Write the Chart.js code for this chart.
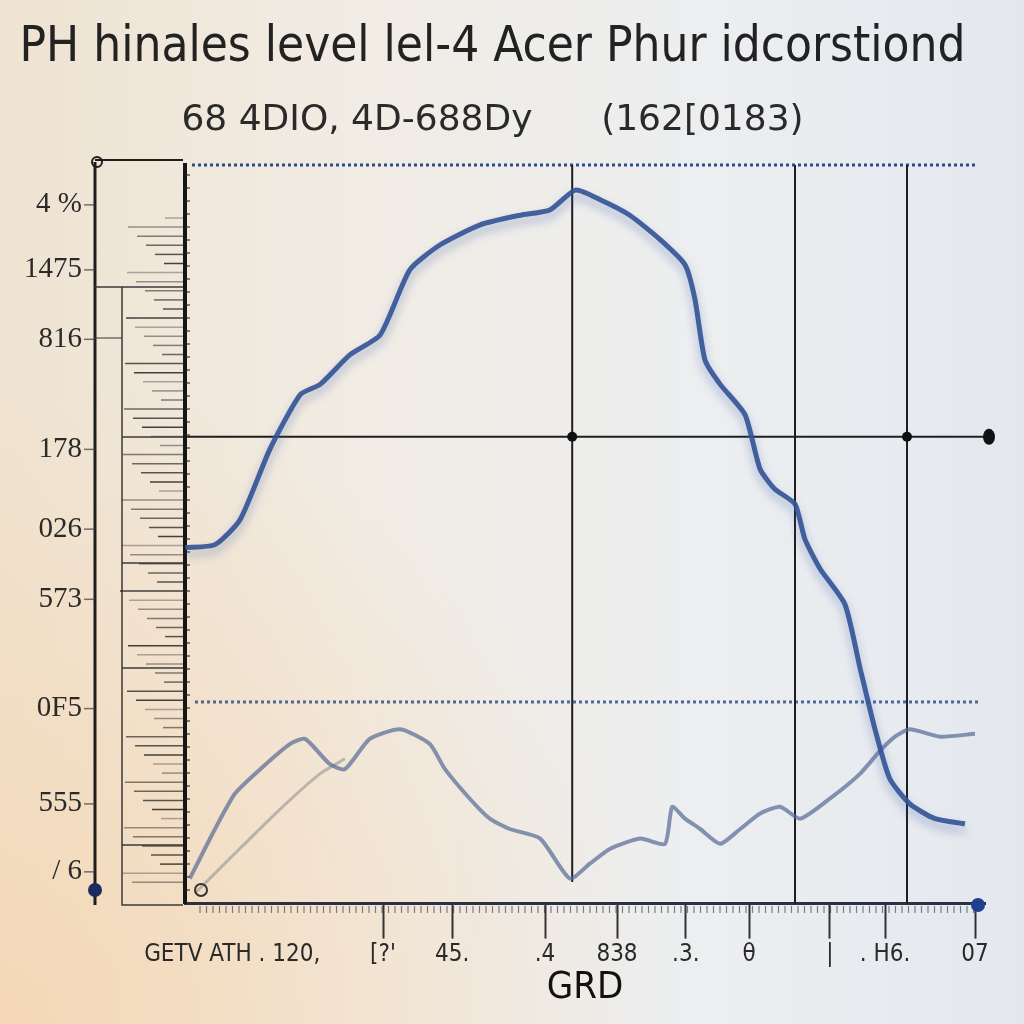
<!DOCTYPE html>
<html>
<head>
<meta charset="utf-8">
<script src="https://cdn.jsdelivr.net/npm/chart.js@4/dist/chart.umd.min.js"></script>
<style>
html,body{margin:0;padding:0;width:1024px;height:1024px;overflow:hidden;}
body{background:
 radial-gradient(ellipse at 0% 100%, rgba(245,215,180,0.9) 0%, rgba(245,215,180,0) 45%),
 linear-gradient(to right, #efe3d1 0%, #f1ece4 35%, #eceef0 70%, #e4e8ee 100%);}
canvas{display:block;}
</style>
</head>
<body>
<canvas id="c" width="1024" height="1024"></canvas>
<script>
// ---- data ----
const titleText = "PH hinales level lel-4 Acer Phur idcorstiond";
const subtitleText = "68 4DIO, 4D-688Dy      (162[0183)";
const xAxisTitle = "GRD";

const yTickVals = [94.6, 85.8, 76.4, 61.5, 50.7, 41.2, 26.4, 13.5, 4.3];
const yTickLabels = ["4 %", "1475", "816", "178", "026", "573", "0F5", "555", "/ 6"];

const xTickVals = [5.9, 24.75, 33.4, 45, 54, 62.6, 70.5, 80.6, 87.5, 98.75];
const xTickLabels = ["GETV ATH . 120,", "[?'", "45.", ".4", "838", ".3.", "θ", "|", ". H6.", "07"];

const upperX = [0, 3.75, 6.9, 10.6, 14.4, 16.9, 20.6, 24.4, 28.1, 31.9, 36.9, 41.9, 45.6, 48.8, 51.9, 55.6, 59.4, 62.5, 63.75, 65.0, 66.9, 70.0, 71.9, 73.75, 76.25, 77.5, 79.4, 82.5, 84.4, 86.25, 88.1, 90.6, 93.75, 97.5];
const upperY = [48.2, 48.6, 52.0, 61.5, 68.9, 70.3, 74.3, 77.0, 85.8, 89.2, 91.9, 93.2, 93.9, 96.6, 95.3, 93.2, 89.9, 86.5, 81.8, 73.6, 70.3, 66.2, 58.8, 56.1, 54.1, 49.3, 45.3, 40.5, 31.8, 23.6, 16.9, 13.5, 11.5, 10.8];

const lowerX = [0.6, 3.75, 6.25, 9.4, 13.1, 15.0, 18.1, 20.0, 23.1, 26.9, 30.6, 32.5, 35.6, 38.1, 40.6, 44.4, 48.1, 50.6, 53.1, 56.9, 60.0, 60.9, 62.5, 64.4, 66.9, 69.4, 71.9, 74.4, 76.9, 80.6, 84.4, 86.9, 88.75, 90.6, 94.4, 98.75];
const lowerY = [3.4, 10.1, 14.9, 18.2, 21.6, 22.3, 18.9, 18.2, 22.3, 23.6, 21.6, 18.2, 14.2, 11.5, 10.1, 8.8, 3.4, 5.4, 7.4, 8.8, 8.1, 13.1, 11.5, 10.1, 8.1, 10.1, 12.2, 13.1, 11.5, 14.2, 17.6, 20.7, 22.6, 23.6, 22.6, 23.0];

const faintX = [1.25, 5.6, 11.9, 16.9, 20.0];
const faintY = [1.4, 6.1, 12.8, 17.6, 19.6];

// reference lines (in data units)
const hLineY = 63.2;
const dashedLineY = 27.3;
const vLinesX = [48.4, 76.25, 90.25];

const pts = (xs, ys) => xs.map((x, i) => ({x: x, y: ys[i]}));

const decor = {
  id: 'decor',
  beforeDatasetsDraw(chart) {
    const ctx = chart.ctx, xs = chart.scales.x, ys = chart.scales.y, a = chart.chartArea;
    ctx.save();
    // left outer structure
    ctx.strokeStyle = '#1e1e1e';
    ctx.lineWidth = 3;
    ctx.beginPath(); ctx.moveTo(95, 162); ctx.lineTo(95, 905); ctx.stroke();
    ctx.lineWidth = 2;
    ctx.beginPath(); ctx.moveTo(95, 160); ctx.lineTo(183, 160); ctx.stroke();
    ctx.beginPath(); ctx.arc(97, 162, 5, 0, Math.PI * 2); ctx.stroke();
    ctx.lineWidth = 1.5;
    ctx.strokeStyle = '#3a3a3a';
    ctx.beginPath(); ctx.moveTo(122, 287); ctx.lineTo(122, 905); ctx.lineTo(183, 905); ctx.stroke();
    ctx.beginPath(); ctx.moveTo(95, 287); ctx.lineTo(183, 287); ctx.stroke();
    [437, 563, 668, 845].forEach(y => { ctx.beginPath(); ctx.moveTo(122, y); ctx.lineTo(183, y); ctx.stroke(); });
    // label dashes
    ctx.strokeStyle = 'rgba(60,60,60,0.7)';
    yTickVals.forEach(v => { const y = ys.getPixelForValue(v); ctx.beginPath(); ctx.moveTo(84, y); ctx.lineTo(95, y); ctx.stroke(); });
    ctx.beginPath(); ctx.moveTo(95, 338); ctx.lineTo(122, 338); ctx.stroke();
    // hatch spikes
    for (let i = 0; i < 74; i++) {
      const y = 218 + i * 9.1;
      const len = 18 + ((i * 37) % 46);
      const al = 0.35 + ((i * 13) % 6) / 10;
      ctx.strokeStyle = 'rgba(35,35,35,' + Math.min(al, 0.9).toFixed(2) + ')';
      ctx.lineWidth = 1.5;
      ctx.beginPath(); ctx.moveTo(183 - len, y); ctx.lineTo(183, y); ctx.stroke();
    }
    // small ticks right of y axis
    ctx.strokeStyle = 'rgba(30,30,30,0.7)';
    for (let y = 175; y < 900; y += 13) { ctx.beginPath(); ctx.moveTo(183, y); ctx.lineTo(190, y); ctx.stroke(); }
    // dense ruler under x axis
    ctx.strokeStyle = 'rgba(40,50,80,0.6)';
    ctx.lineWidth = 1.2;
    for (let x = 200; x < 975; x += 6.5) { ctx.beginPath(); ctx.moveTo(x, 906); ctx.lineTo(x, 913); ctx.stroke(); }
    // dashed blue lines
    ctx.setLineDash([3, 3]);
    ctx.strokeStyle = '#2c4c8c';
    ctx.lineWidth = 3;
    ctx.beginPath(); ctx.moveTo(192, a.top); ctx.lineTo(978, a.top); ctx.stroke();
    ctx.strokeStyle = 'rgba(40,70,130,0.8)';
    const dy = ys.getPixelForValue(dashedLineY);
    ctx.beginPath(); ctx.moveTo(195, dy); ctx.lineTo(980, dy); ctx.stroke();
    ctx.setLineDash([]);
    // vertical lines
    ctx.strokeStyle = '#1e1e1e';
    ctx.lineWidth = 2;
    vLinesX.forEach((v, i) => {
      const x = xs.getPixelForValue(v);
      ctx.beginPath(); ctx.moveTo(x, a.top); ctx.lineTo(x, i === 0 ? 882 : a.bottom); ctx.stroke();
    });
    // horizontal line
    const hy = ys.getPixelForValue(hLineY);
    ctx.beginPath(); ctx.moveTo(a.left, hy); ctx.lineTo(990, hy); ctx.stroke();
    ctx.fillStyle = '#111';
    [vLinesX[0], vLinesX[2]].forEach(v => { ctx.beginPath(); ctx.arc(xs.getPixelForValue(v), hy, 5, 0, Math.PI * 2); ctx.fill(); });
    ctx.beginPath(); ctx.ellipse(989, hy, 6, 8, 0, 0, Math.PI * 2); ctx.fill();
    ctx.restore();
  },
  afterDraw(chart) {
    const ctx = chart.ctx;
    ctx.save();
    ctx.fillStyle = '#1f3f8f';
    ctx.beginPath(); ctx.arc(978, 905, 7, 0, Math.PI * 2); ctx.fill();
    ctx.fillStyle = '#1c2c60';
    ctx.beginPath(); ctx.arc(95, 890, 7, 0, Math.PI * 2); ctx.fill();
    ctx.strokeStyle = '#333'; ctx.lineWidth = 2;
    ctx.beginPath(); ctx.arc(201, 890, 6, 0, Math.PI * 2); ctx.stroke();
    ctx.restore();
  },
  beforeDatasetDraw(chart, args) {
    const ctx = chart.ctx;
    ctx.save();
    if (args.index === 0) { ctx.shadowColor = 'rgba(60,90,170,0.45)'; ctx.shadowBlur = 10; ctx.shadowOffsetY = 6; }
  },
  afterDatasetDraw(chart) { chart.ctx.restore(); }
};

new Chart(document.getElementById('c'), {
  type: 'line',
  data: {
    datasets: [
      {label: 'upper', data: pts(upperX, upperY), borderColor: 'rgba(50,82,150,0.9)', borderWidth: 5, pointRadius: 0, tension: 0.2, fill: false},
      {label: 'lower', data: pts(lowerX, lowerY), borderColor: 'rgba(85,105,150,0.7)', borderWidth: 4, pointRadius: 0, tension: 0.2, fill: false},
      {label: 'faint', data: pts(faintX, faintY), borderColor: 'rgba(140,140,140,0.55)', borderWidth: 3, pointRadius: 0, tension: 0.2, fill: false}
    ]
  },
  options: {
    responsive: false,
    animation: false,
    layout: {padding: {left: 0, right: 39, top: 0, bottom: 12}},
    plugins: {
      legend: {display: false},
      tooltip: {enabled: false},
      title: {display: true, text: titleText, color: '#222',
        font: {family: '"DejaVu Sans Condensed", "Liberation Sans", sans-serif', size: 49, weight: 'normal'},
        padding: {top: 19, bottom: 0}},
      subtitle: {display: true, text: subtitleText, color: '#2a2a2a',
        font: {family: '"DejaVu Sans", sans-serif', size: 36, weight: 'normal'},
        padding: {top: 21, bottom: 23}}
    },
    scales: {
      x: {
        type: 'linear', min: 0, max: 100,
        afterFit: s => { s.height = 107; },
        afterBuildTicks: s => { s.ticks = xTickVals.map(v => ({value: v})); },
        ticks: {callback: (v, i) => xTickLabels[i], color: '#2a2a2a', padding: 2, maxRotation: 0, autoSkip: false,
          font: {family: '"DejaVu Sans Condensed", sans-serif', size: 24}},
        grid: {display: true, drawOnChartArea: false, tickLength: 35, tickWidth: 2,
          tickColor: c => c.index === 0 ? 'rgba(0,0,0,0)' : '#333'},
        border: {display: true, color: '#2b3140', width: 3},
        title: {display: true, text: xAxisTitle, color: '#111', padding: {top: 0, bottom: 0},
          font: {family: '"DejaVu Sans Condensed", sans-serif', size: 38}}
      },
      y: {
        type: 'linear', min: 0, max: 100,
        afterFit: s => { s.width = 185; },
        afterBuildTicks: s => { s.ticks = yTickVals.map(v => ({value: v})); },
        ticks: {callback: (v, i) => yTickLabels[i], color: '#2a2a2a', padding: 103, autoSkip: false,
          font: {family: '"Liberation Serif", "DejaVu Serif", serif', size: 29}},
        grid: {display: true, drawOnChartArea: false, tickLength: 0},
        border: {display: true, color: '#151515', width: 4}
      }
    }
  },
  plugins: [decor]
});
</script>
</body>
</html>
